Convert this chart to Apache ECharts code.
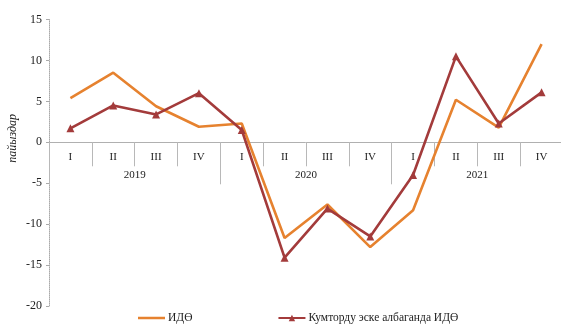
<!DOCTYPE html>
<html>
<head>
<meta charset="utf-8">
<script src="https://cdn.jsdelivr.net/npm/echarts@6/dist/echarts.min.js"></script>
<style>
  html, body { margin: 0; padding: 0; background: #fff; }
  #chart { width: 561px; height: 324px; }
</style>
</head>
<body>
<div id="chart"></div>
<script>
// Quarterly GDP growth, per cent
const quarters = ['I', 'II', 'III', 'IV', 'I', 'II', 'III', 'IV', 'I', 'II', 'III', 'IV'];
const years = ['2019', '2020', '2021'];
const gdp = [5.4, 8.5, 4.4, 1.9, 2.3, -11.7, -7.6, -12.8, -8.3, 5.2, 1.8, 12.0];
const gdpExKumtor = [1.7, 4.5, 3.4, 6.0, 1.5, -14.1, -8.1, -11.5, -4.0, 10.5, 2.3, 6.1];
const seriesNames = ['ИДӨ', 'Кумторду эске албаганда ИДӨ'];
const yTicks = { min: -20, max: 15, step: 5 };

const serif = '"Liberation Serif", "DejaVu Serif", serif';

// Plot area; the quarter/year axes live in a second grid whose bottom edge sits on the zero line
const plot = { left: 49, top: 19.5, width: 514, height: 286.5 };
const zeroOffset = plot.height * yTicks.max / (yTicks.max - yTicks.min);

// plain line legend key (tiny corner dots keep the 27x8 box so the stroke is not stretched)
const lineKey = 'path://M0,2.7H27V5.3H0Z M0,0H0.01V0.01H0Z M26.99,7.99H27V8H26.99Z';

const chart = echarts.init(document.getElementById('chart'));

chart.setOption({
  animation: false,
  backgroundColor: '#fff',
  grid: [
    { left: plot.left, top: plot.top, width: plot.width, height: plot.height,
      containLabel: false, outerBoundsMode: 'none' },
    { left: plot.left, top: plot.top, width: plot.width, height: zeroOffset,
      containLabel: false, outerBoundsMode: 'none' }
  ],
  legend: {
    left: 138,
    top: 312,
    padding: 0,
    itemWidth: 27,
    itemHeight: 8,
    itemGap: 85,
    textStyle: { fontFamily: serif, fontSize: 11.5, color: '#222', padding: [0, 0, 0, -2] },
    data: [
      { name: seriesNames[0], icon: lineKey },
      { name: seriesNames[1] }
    ]
  },
  xAxis: [
    {
      // positions the series points, hidden
      gridIndex: 0,
      type: 'category',
      data: quarters,
      boundaryGap: true,
      show: false
    },
    {
      gridIndex: 1,
      type: 'category',
      position: 'bottom',
      data: quarters,
      boundaryGap: true,
      axisLine: { onZero: false, lineStyle: { color: '#b0b0b0', width: 1 } },
      axisTick: { show: true, length: 24, lineStyle: { color: '#b8b8b8' } },
      axisLabel: { interval: 0, margin: 9, fontFamily: serif, fontSize: 11, color: '#222' },
      splitLine: { show: false }
    },
    {
      gridIndex: 1,
      type: 'category',
      position: 'bottom',
      data: years,
      boundaryGap: true,
      axisLine: { show: false, onZero: false },
      axisTick: { show: true, length: 42, lineStyle: { color: '#b8b8b8' } },
      axisLabel: { interval: 0, margin: 27, fontFamily: serif, fontSize: 11, color: '#222' },
      splitLine: { show: false }
    }
  ],
  yAxis: [
    {
      gridIndex: 0,
      type: 'value',
      min: yTicks.min,
      max: yTicks.max,
      interval: yTicks.step,
      axisLine: { show: true, lineStyle: { color: '#aaaaaa', type: [1, 1], width: 1 } },
      axisTick: { show: true, length: 3, lineStyle: { color: '#aaaaaa' } },
      axisLabel: { margin: 7, fontFamily: serif, fontSize: 12, color: '#222' },
      splitLine: { show: false }
    },
    {
      gridIndex: 1,
      type: 'value',
      min: 0,
      max: yTicks.max,
      show: false
    }
  ],
  graphic: [{
    type: 'text',
    left: 7,
    top: 114,
    rotation: Math.PI / 2,
    style: {
      text: 'пайыздар',
      font: 'italic 12px ' + serif,
      fill: '#222'
    }
  }],
  series: [
    {
      name: seriesNames[0],
      type: 'line',
      xAxisIndex: 0,
      yAxisIndex: 0,
      data: gdp,
      symbol: 'none',
      lineStyle: { color: '#E6822F', width: 2.6 },
      itemStyle: { color: '#E6822F' },
      z: 2
    },
    {
      name: seriesNames[1],
      type: 'line',
      xAxisIndex: 0,
      yAxisIndex: 0,
      data: gdpExKumtor,
      symbol: 'triangle',
      symbolSize: 8,
      lineStyle: { color: '#A33B3B', width: 2.6 },
      itemStyle: { color: '#A33B3B' },
      z: 3
    }
  ]
});
</script>
</body>
</html>
